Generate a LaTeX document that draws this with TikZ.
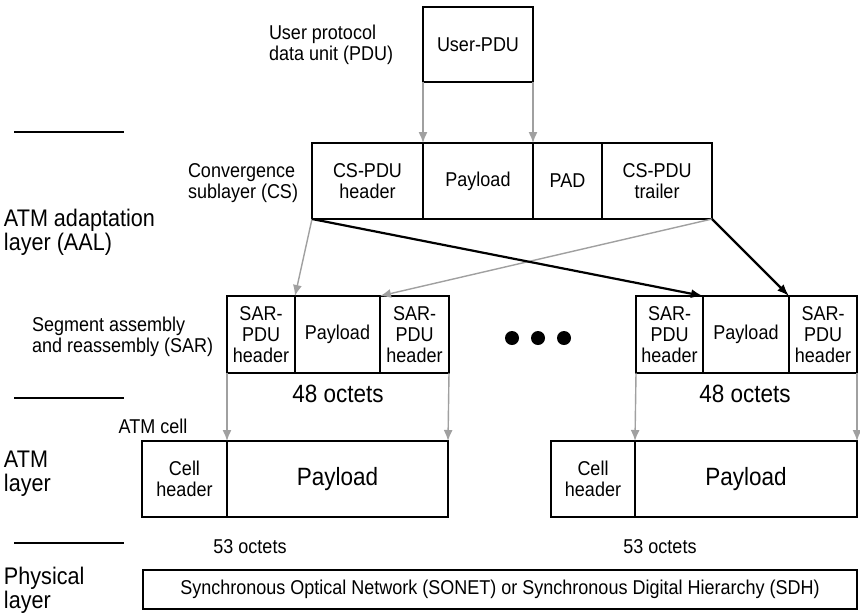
\documentclass[tikz,border=0pt]{standalone}
\usepackage{fontspec}
\setmainfont{Liberation Sans}[FakeStretch=0.9]
\usepackage{tikz}
\usetikzlibrary{arrows.meta, positioning}

\definecolor{arrowgray}{RGB}{160,160,160}
\newcommand{\boxfont}{\fontsize{20}{21}\selectfont}
\newcommand{\bigfont}{\fontsize{25}{26}\selectfont}
\newcommand{\layerfont}{\fontsize{24}{24}\selectfont}

\begin{document}
\begin{tikzpicture}[x=1pt,y=-1pt,every node/.style={draw,outer sep=0pt,inner sep=0pt,line width=2.2pt,anchor=north west,align=center,font=\boxfont}]

\tikzstyle{label}=[draw=none,font=\boxfont,align=left,anchor=west]
\tikzstyle{layer}=[draw=none,font=\layerfont,align=left,anchor=west]
\tikzstyle{grayarrow}=[-{Latex[length=11pt,width=9pt]}, arrowgray, line width=1.4pt]
\tikzstyle{blackarrow}=[-{Latex[length=12pt,width=9pt]}, black, line width=2.2pt]

\useasboundingbox (0,0) rectangle (860,614);

% user PDU and CS
\node (userpdu) [minimum width=110pt,minimum height=75pt] at (423,7) {User-PDU};
\node (cshead) [minimum width=111pt,minimum height=76pt] at (312,143) {CS-PDU\\header};
\node (cspay) [minimum width=110pt,minimum height=76pt] at (423,143) {Payload};
\node (cspad) [minimum width=69pt,minimum height=76pt] at (533,143) {PAD};
\node (cstrail) [minimum width=110pt,minimum height=76pt] at (602,143) {CS-PDU\\trailer};

% SAR
\node (sarLh) [minimum width=68pt,minimum height=77pt] at (227,296) {SAR-\\PDU\\header};
\node (sarLp) [minimum width=85pt,minimum height=77pt] at (295,296) {Payload};
\node (sarLt) [minimum width=69pt,minimum height=77pt] at (380,296) {SAR-\\PDU\\header};
\node (sarRh) [minimum width=67pt,minimum height=77pt] at (636,296) {SAR-\\PDU\\header};
\node (sarRp) [minimum width=86pt,minimum height=77pt] at (703,296) {Payload};
\node (sarRt) [minimum width=68pt,minimum height=77pt] at (789,296) {SAR-\\PDU\\header};

% ATM cells
\node (cellLh) [minimum width=85pt,minimum height=76pt] at (142,441) {Cell\\header};
\node (cellLp) [minimum width=221pt,minimum height=76pt,font=\bigfont] at (227,441) {Payload};
\node (cellRh) [minimum width=84pt,minimum height=76pt] at (551,441) {Cell\\header};
\node (cellRp) [minimum width=222pt,minimum height=76pt,font=\bigfont] at (635,441) {Payload};

% physical
\node (sonet) [minimum width=714pt,minimum height=39pt] at (143,570) {Synchronous Optical Network (SONET) or Synchronous Digital Hierarchy (SDH)};

% arrows
\draw [grayarrow] (userpdu.south west) -- (cshead.north east);
\draw [grayarrow] (userpdu.south east) -- (cspay.north east);
\draw [grayarrow] (cshead.south west) -- (sarLh.north east);
\draw [grayarrow] (cstrail.south east) -- (sarLp.north east);
\draw [blackarrow] (cshead.south west) -- (sarRh.north east);
\draw [blackarrow] (cstrail.south east) -- (sarRp.north east);
\draw [grayarrow] (sarLh.south west) -- (cellLh.north east);
\draw [grayarrow] (sarLt.south east) -- (cellLp.north east);
\draw [grayarrow] (sarRh.south west) -- (cellRh.north east);
\draw [grayarrow] (sarRt.south east) -- (cellRp.north east);

% labels
\node (pdulabel) [label] at (269,45) {User protocol\\data unit (PDU)};
\node (cslabel) [label] at (188,183) {Convergence\\sublayer (CS)};
\node (sarlabel) [label] at (32,337) {Segment assembly\\and reassembly (SAR)};
\node (octL) [label,font=\bigfont,anchor=center] at (338,394) {48 octets};
\node (octR) [label,font=\bigfont,anchor=center] at (745,394) {48 octets};
\node (cellname) [label,anchor=center] at (153,426) {ATM cell};
\node (octcL) [label,anchor=center] at (250,547) {53 octets};
\node (octcR) [label,anchor=center] at (660,547) {53 octets};

\fill (512,338) circle (7pt);
\fill (538,338) circle (7pt);
\fill (564,338) circle (7pt);

% layers
\draw [line width=2.4pt] (14,132) -- (124,132);
\draw [line width=2.4pt] (14,398) -- (124,398);
\draw [line width=2.4pt] (14,543) -- (124,543);
\node (aal) [layer] at (4,232) {ATM adaptation\\layer (AAL)};
\node (atm) [layer] at (4,474) {ATM\\layer};
\node (phy) [layer] at (4,590) {Physical\\layer};

\end{tikzpicture}
\end{document}
